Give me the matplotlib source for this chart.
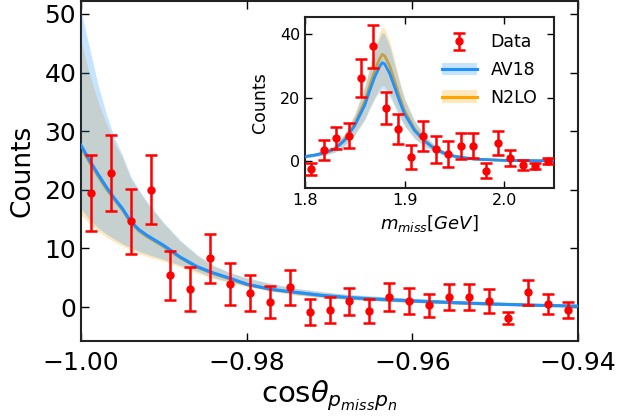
import numpy as np
import matplotlib
matplotlib.use("Agg")
import matplotlib.pyplot as plt
from matplotlib.patches import Patch
from matplotlib.lines import Line2D

# ---------------- main panel data ----------------
cos_x = [-0.9988 + 0.0024 * i for i in range(25)]
cos_counts = [19.5, 22.9, 14.6, 20.0, 5.4, 3.1, 8.3, 3.9, 2.4, 0.8, 3.4, -0.8, -0.5,
              1.0, -0.7, 1.7, 1.0, 0.3, 1.7, 1.7, 1.0, -1.9, 2.5, 0.5, -0.5]
cos_err = [6.5, 6.5, 5.5, 5.9, 4.2, 3.7, 4.2, 3.6, 3.1, 2.7, 3.0, 2.2, 2.2,
           2.3, 2.0, 2.4, 2.2, 2.0, 2.2, 2.2, 2.0, 1.0, 2.1, 1.7, 1.3]

th_cos = [-1.0, -0.999, -0.998, -0.997, -0.996, -0.995, -0.994, -0.993, -0.992, -0.990,
          -0.988, -0.986, -0.984, -0.982, -0.980, -0.977, -0.974, -0.971, -0.968, -0.965,
          -0.960, -0.955, -0.950, -0.945, -0.940]
av18_cos = [27.6, 25.1, 22.8, 20.6, 18.6, 16.8, 14.6, 13.2, 12.2, 10.5, 8.5, 6.9, 5.8, 4.9,
            3.9, 3.0, 2.5, 2.0, 1.65, 1.4, 1.05, 0.75, 0.5, 0.3, 0.15]
av18_cos_hi = [50.5, 44.4, 38.2, 33.2, 29.0, 25.9, 22.3, 20.0, 17.9, 14.4, 11.35, 8.95, 7.1, 5.9,
               5.0, 4.0, 3.2, 2.65, 2.2, 1.9, 1.5, 1.15, 0.85, 0.62, 0.47]
av18_cos_lo = [16.8, 14.9, 13.6, 12.5, 11.6, 10.8, 10.1, 9.5, 9.0, 8.1, 7.1, 6.1, 5.0, 4.3,
               3.6, 2.8, 2.1, 1.7, 1.35, 1.1, 0.8, 0.55, 0.35, 0.2, 0.1]
n2lo_cos = [27.2, 24.8, 22.5, 20.3, 18.4, 16.6, 14.4, 13.0, 12.0, 10.3, 8.4, 6.8, 5.7, 4.8,
            3.85, 2.95, 2.45, 1.95, 1.6, 1.35, 1.0, 0.72, 0.48, 0.28, 0.13]
n2lo_cos_hi = [45.5, 39.9, 35.3, 31.5, 28.1, 25.5, 21.9, 19.7, 17.7, 14.2, 11.2, 8.8, 7.0, 5.8,
               4.9, 3.9, 3.1, 2.6, 2.15, 1.85, 1.45, 1.1, 0.8, 0.6, 0.45]
n2lo_cos_lo = [15.8, 14.2, 13.0, 12.0, 11.1, 10.4, 9.7, 9.1, 8.6, 7.8, 6.8, 5.8, 4.8, 4.1,
               3.45, 2.7, 2.0, 1.6, 1.3, 1.05, 0.75, 0.5, 0.3, 0.18, 0.08]

# ---------------- inset data ----------------
mm_x = [1.80625 + 0.0125 * i for i in range(20)]
mm_counts = [-2.5, 3.5, 7.3, 8.0, 26.2, 36.2, 16.8, 10.1, 1.4, 7.9, 3.7, 2.2, 4.7, 4.8,
             -3.1, 5.8, 0.9, -1.3, -1.5, 0.1]
mm_err = [1.8, 3.2, 3.5, 4.0, 5.9, 6.8, 5.0, 4.7, 3.8, 4.6, 4.2, 4.1, 4.2, 4.0,
          2.4, 3.8, 2.5, 1.5, 1.0, 1.0]

th_mm = [1.80, 1.81, 1.82, 1.83, 1.84, 1.85, 1.86, 1.865, 1.87, 1.875, 1.8775, 1.88, 1.885,
         1.89, 1.895, 1.90, 1.91, 1.92, 1.93, 1.94, 1.95, 1.97, 2.00, 2.05]
av18_mm = [1.4, 1.9, 2.6, 3.8, 6.6, 11.2, 17.6, 22.2, 26.5, 29.8, 31.0, 30.6, 27.6, 23.3,
           18.8, 14.8, 9.6, 6.3, 3.9, 2.4, 1.5, 0.6, 0.2, 0.05]
av18_mm_hi = [1.8, 2.5, 3.4, 5.0, 8.6, 14.7, 23.1, 29.1, 34.7, 39.0, 40.6, 40.1, 36.2, 30.5,
              24.6, 19.4, 12.6, 8.3, 5.1, 3.1, 2.0, 0.8, 0.3, 0.1]
av18_mm_lo = [1.0, 1.4, 1.9, 2.8, 4.9, 8.3, 13.0, 16.4, 19.6, 22.1, 22.9, 22.6, 20.4, 17.2,
              13.9, 11.0, 7.1, 4.7, 2.9, 1.8, 1.1, 0.45, 0.15, 0.04]
n2lo_mm = [1.4, 1.9, 2.6, 3.9, 6.9, 11.8, 18.8, 23.8, 28.5, 32.3, 33.6, 33.2, 30.0, 25.2,
           20.2, 15.8, 10.1, 6.5, 4.0, 2.5, 1.55, 0.6, 0.2, 0.05]
n2lo_mm_hi = [1.8, 2.4, 3.3, 4.9, 8.7, 14.9, 23.7, 30.0, 35.9, 40.7, 42.3, 41.8, 37.8, 31.8,
              25.5, 19.9, 12.7, 8.2, 5.0, 3.2, 2.0, 0.8, 0.25, 0.06]
n2lo_mm_lo = [1.0, 1.35, 1.85, 2.8, 4.9, 8.4, 13.3, 16.9, 20.2, 22.9, 23.9, 23.6, 21.3, 17.9,
              14.3, 11.2, 7.2, 4.6, 2.8, 1.8, 1.1, 0.4, 0.14, 0.04]

BLUE = "#1e90ff"
ORANGE = "#ffa500"
RED = "#ff0000"
ALPHA = 0.25

fig = plt.figure(figsize=(6.21, 4.20), dpi=100)
ax = fig.add_axes([81 / 621, 79 / 420, 497 / 621, 340.5 / 420])


def draw_theory(a, x, n2, n2lo, n2hi, av, avlo, avhi, lw):
    a.fill_between(x, n2lo, n2hi, color=ORANGE, alpha=ALPHA, lw=0, zorder=1)
    a.plot(x, n2, color=ORANGE, lw=lw, zorder=2)
    a.fill_between(x, avlo, avhi, color=BLUE, alpha=ALPHA, lw=0, zorder=3)
    a.plot(x, av, color=BLUE, lw=lw, zorder=4)


def style_axes(a, size, length):
    a.tick_params(direction="in", top=True, right=True, labelsize=size,
                  length=length, width=1.0, colors="black")
    for s in a.spines.values():
        s.set_linewidth(1.5)
        s.set_color("#222222")


draw_theory(ax, th_cos, n2lo_cos, n2lo_cos_lo, n2lo_cos_hi,
            av18_cos, av18_cos_lo, av18_cos_hi, 2.2)
ax.errorbar(cos_x, cos_counts, yerr=cos_err, fmt="o", color=RED, ms=5,
            elinewidth=1.8, capsize=4, capthick=1.8, zorder=5)
ax.set_xlim(-1.0, -0.94)
ax.set_ylim(-5.8, 52.3)
ax.set_xticks([-1.0, -0.98, -0.96, -0.94])
ax.set_yticks([0, 10, 20, 30, 40, 50])
ax.set_xticklabels(["\u22121.00", "\u22120.98", "\u22120.96", "\u22120.94"])
style_axes(ax, 18, 6)
ax.tick_params(axis="x", pad=7)
ax.set_ylabel("Counts", fontsize=19, labelpad=6)
ax.set_xlabel(r"$\mathrm{cos}\theta_{p_{miss}p_{n}}$", fontsize=21, labelpad=3)

# ---------------- inset ----------------
ins = fig.add_axes([305 / 621, (420 - 188) / 420, 249 / 621, 171 / 420])
draw_theory(ins, th_mm, n2lo_mm, n2lo_mm_lo, n2lo_mm_hi,
            av18_mm, av18_mm_lo, av18_mm_hi, 2.0)
data_h = ins.errorbar(mm_x, mm_counts, yerr=mm_err, fmt="o", color=RED, ms=5,
                      elinewidth=1.8, capsize=4, capthick=1.8, zorder=5)
ins.set_xlim(1.8, 2.05)
ins.set_ylim(-8.5, 45.4)
ins.set_xticks([1.8, 1.9, 2.0])
ins.set_yticks([0, 20, 40])
style_axes(ins, 11.5, 5)
ins.set_ylabel("Counts", fontsize=12.5, labelpad=8)
ins.set_xlabel(r"$m_{miss}[GeV]$", fontsize=13, labelpad=4)

h_av = (Patch(facecolor=BLUE, alpha=ALPHA, lw=0), Line2D([], [], color=BLUE, lw=2.2))
h_n2 = (Patch(facecolor=ORANGE, alpha=ALPHA, lw=0), Line2D([], [], color=ORANGE, lw=2.2))
ins.legend([data_h, h_av, h_n2], ["Data", "AV18", "N2LO"], loc="upper right",
           frameon=False, fontsize=12.5, handlelength=2.0, borderaxespad=0.55,
           labelspacing=0.55, handletextpad=0.8)

fig.savefig("out.png", dpi=100)
